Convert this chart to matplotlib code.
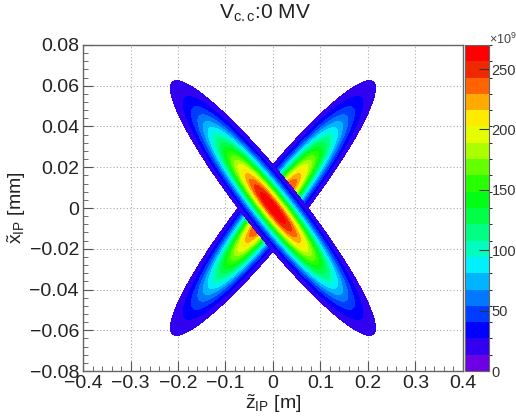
import numpy as np
import matplotlib
matplotlib.use("Agg")
import matplotlib.pyplot as plt
from matplotlib.colors import ListedColormap, BoundaryNorm
from matplotlib.cm import ScalarMappable

plt.rcParams['font.family'] = ['Liberation Sans', 'DejaVu Sans']
plt.rcParams['mathtext.fontset'] = 'custom'
plt.rcParams['mathtext.rm'] = 'Liberation Sans'
plt.rcParams['mathtext.it'] = 'Liberation Sans:italic'

# luminosity density of the two bunches at the IP (units of 1e9)
peak = 268.0
sigma_z = 0.0883      # m
sigma_x = 0.0087      # mm
slopes = [0.272, -0.272]   # bunch tilt dx/dz, drawn in this order
z_range = (-0.4, 0.4)
x_range = (-0.08, 0.08)
levels = np.linspace(0, 270, 21)
cbar_ticks = [0, 50, 100, 150, 200, 250]

band_colors = ['#6e00e6', '#3200f0', '#0000ff', '#003cff', '#0078ff',
               '#00b4ff', '#00f0ff', '#00ffbe', '#00ff82', '#00ff46',
               '#00ff14', '#28ff00', '#64ff00', '#aaff00', '#e6ff00',
               '#ffeb00', '#ffaa00', '#ff6400', '#f02800', '#ff0000']
cmap = ListedColormap(band_colors)
norm = BoundaryNorm(levels, cmap.N)

z = np.linspace(z_range[0], z_range[1], 800)
x = np.linspace(x_range[0], x_range[1], 800)
Z, X = np.meshgrid(z, x)

fig = plt.figure(figsize=(5.16, 4.16), dpi=100)
ax = fig.add_axes([0.161, 0.108, 0.736, 0.784])
cax = fig.add_axes([0.901, 0.108, 0.046, 0.784])

for s in slopes:
    d = X - s * Z
    rho = peak * np.exp(-Z**2 / (2 * sigma_z**2) - d**2 / (2 * sigma_x**2))
    # empty bins below the first contour are left blank
    ax.contourf(Z, X, rho, levels=levels[1:], cmap=cmap, norm=norm, zorder=2)

ax.set_xlim(*z_range)
ax.set_ylim(*x_range)
ax.set_xticks(np.arange(-0.4, 0.41, 0.1))
ax.set_xticks(np.arange(-0.4, 0.41, 0.02), minor=True)
ax.set_yticks(np.arange(-0.08, 0.081, 0.02))
ax.set_yticks(np.arange(-0.08, 0.081, 0.004), minor=True)
ax.set_xticklabels(['\u22120.4', '\u22120.3', '\u22120.2', '\u22120.1', '0',
                    '0.1', '0.2', '0.3', '0.4'])
ax.set_yticklabels(['\u22120.08', '\u22120.06', '\u22120.04', '\u22120.02', '0',
                    '0.02', '0.04', '0.06', '0.08'])
ax.tick_params(which='both', direction='in', top=False, right=False,
               labelsize=14, colors='#555555', labelcolor='#222222')
ax.tick_params(which='major', length=7, pad=3)
ax.tick_params(which='minor', length=3.5)
ax.grid(True, which='major', color='#aaaaaa', linestyle=(0, (1, 2)), linewidth=0.8)
ax.set_axisbelow(True)
for sp in ax.spines.values():
    sp.set_color('#666666')
    sp.set_linewidth(1.0)

ax.set_xlabel(r'$\tilde{\mathrm{z}}_{\mathrm{IP}}$ [m]', fontsize=14, labelpad=0,
              color='#222222')
ax.set_ylabel(r'$\tilde{\mathrm{x}}_{\mathrm{IP}}$ [mm]', fontsize=14, labelpad=1,
              color='#222222')
fig.text(0.514, 0.967, r'V$_{\mathrm{c.c}}$:0 MV', ha='center', va='center',
         fontsize=15, color='#222222')

sm = ScalarMappable(norm=norm, cmap=cmap)
cb = fig.colorbar(sm, cax=cax, boundaries=levels, ticks=cbar_ticks)
cb.outline.set_edgecolor('#666666')
cax.tick_params(direction='in', length=7, labelsize=10.5, colors='#333333', pad=2)
fig.text(0.948, 0.905, r'$\times$10$^{9}$', fontsize=9, color='#444444',
         ha='left', va='center')

fig.savefig('out.png', dpi=100)
